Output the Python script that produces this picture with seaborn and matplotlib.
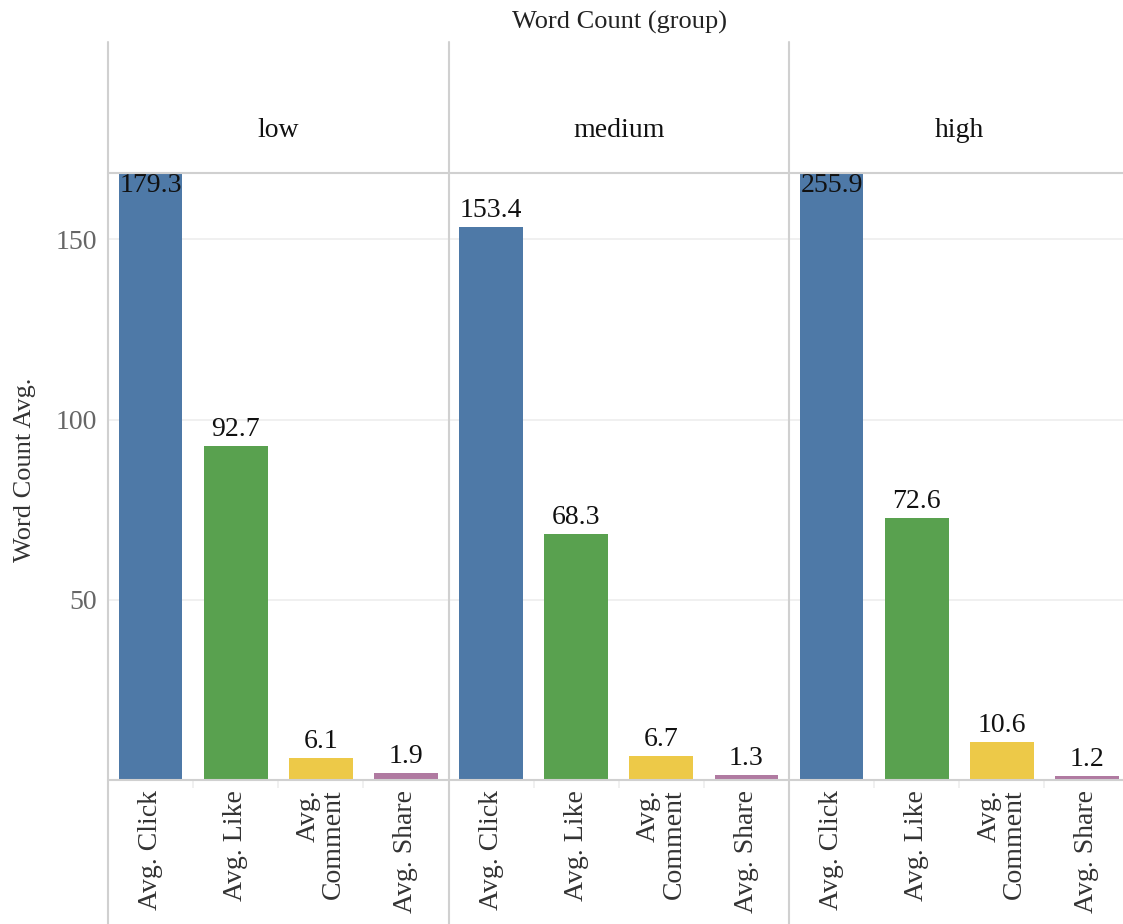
import matplotlib
matplotlib.use("Agg")
import matplotlib.pyplot as plt
from matplotlib.lines import Line2D
import seaborn as sns
import pandas as pd

# --- data ---------------------------------------------------------------
groups = ["low", "medium", "high"]
metrics = ["Avg. Click", "Avg. Like", "Avg. Comment", "Avg. Share"]
metric_labels = ["Avg. Click", "Avg. Like", "Avg.\nComment", "Avg. Share"]
low_values = [179.3, 92.7, 6.1, 1.9]
medium_values = [153.4, 68.3, 6.7, 1.3]
high_values = [255.9, 72.6, 10.6, 1.2]
y_ticks = [50, 100, 150]

colors = ["#4e79a7", "#59a14f", "#edc948", "#b07aa1"]

df = pd.DataFrame({
    "group": [g for g in groups for _ in metrics],
    "metric": metrics * len(groups),
    "value": low_values + medium_values + high_values,
})

# --- style --------------------------------------------------------------
sns.set_style("white")
plt.rcParams["font.family"] = ["Liberation Serif", "DejaVu Serif"]
FS = 20

W, H = 1123, 924
fig = plt.figure(figsize=(W / 100, H / 100), dpi=100)


def fx(px):
    return px / W


def fy(py):
    return 1 - py / H


edges = [108, 448.5, 789, 1129.5]
plot_top, plot_bot = 173, 780
y_max = 168.4
line_col = "#d0d0d0"

for i, g in enumerate(groups):
    x0, x1 = edges[i], edges[i + 1]
    ax = fig.add_axes([fx(x0), fy(plot_bot), (x1 - x0) / W, (plot_bot - plot_top) / H])
    sub = df[df["group"] == g]
    sns.barplot(data=sub, x="metric", y="value", hue="metric", order=metrics,
                hue_order=metrics, palette=colors, width=0.75, saturation=1,
                legend=False, linewidth=0, ax=ax)
    ax.set_ylim(0, y_max)
    ax.set_xlim(-0.5, 3.5)
    for s in ax.spines.values():
        s.set_visible(False)
    ax.set_axisbelow(True)
    ax.set_yticks(y_ticks)
    ax.yaxis.grid(True, color="#ededed", lw=1.2)
    ax.tick_params(axis="y", length=0, pad=8, labelsize=FS, labelcolor="#666666")
    if i > 0:
        ax.set_yticklabels([])
    ax.set_xlabel("")
    ax.set_ylabel("")

    ax.set_xticks(range(len(metrics)))
    ax.set_xticklabels(metric_labels, rotation=90, fontsize=FS, color="#333333",
                       linespacing=1.05)
    for lab in ax.get_xticklabels():
        lab.set_multialignment("right")
    ax.tick_params(axis="x", which="major", length=0, pad=7)
    ax.set_xticks([0.5, 1.5, 2.5], minor=True)
    ax.tick_params(axis="x", which="minor", bottom=True, length=6, width=1.2,
                   color="#eeeeee")

    # value labels
    for j, v in enumerate(sub["value"].tolist()):
        if v > y_max:
            ax.annotate(f"{v:.1f}", (j, y_max), xytext=(0, 0), textcoords="offset points",
                        ha="center", va="top", fontsize=FS, color="#111111",
                        annotation_clip=False)
        else:
            ax.annotate(f"{v:.1f}", (j, v), xytext=(0, 3), textcoords="offset points",
                        ha="center", va="bottom", fontsize=FS, color="#111111")

    # column header
    fig.text(fx((x0 + x1) / 2), fy(130), g, ha="center", va="center",
             fontsize=FS, color="#111111")

# panel frame lines
for x in edges:
    fig.add_artist(Line2D([fx(x), fx(x)], [fy(42), 0], transform=fig.transFigure,
                          color=line_col, lw=1.5))
for y in (plot_top, plot_bot):
    fig.add_artist(Line2D([fx(edges[0]), 1], [fy(y), fy(y)], transform=fig.transFigure,
                          color=line_col, lw=1.5))

fig.text(fx(620), fy(22), "Word Count (group)", ha="center", va="center",
         fontsize=FS - 1, color="#222222")
fig.text(fx(25), fy(470), "Word Count Avg.", rotation=90, ha="center", va="center",
         fontsize=FS - 1, color="#333333")

fig.savefig("out.png", dpi=100)
